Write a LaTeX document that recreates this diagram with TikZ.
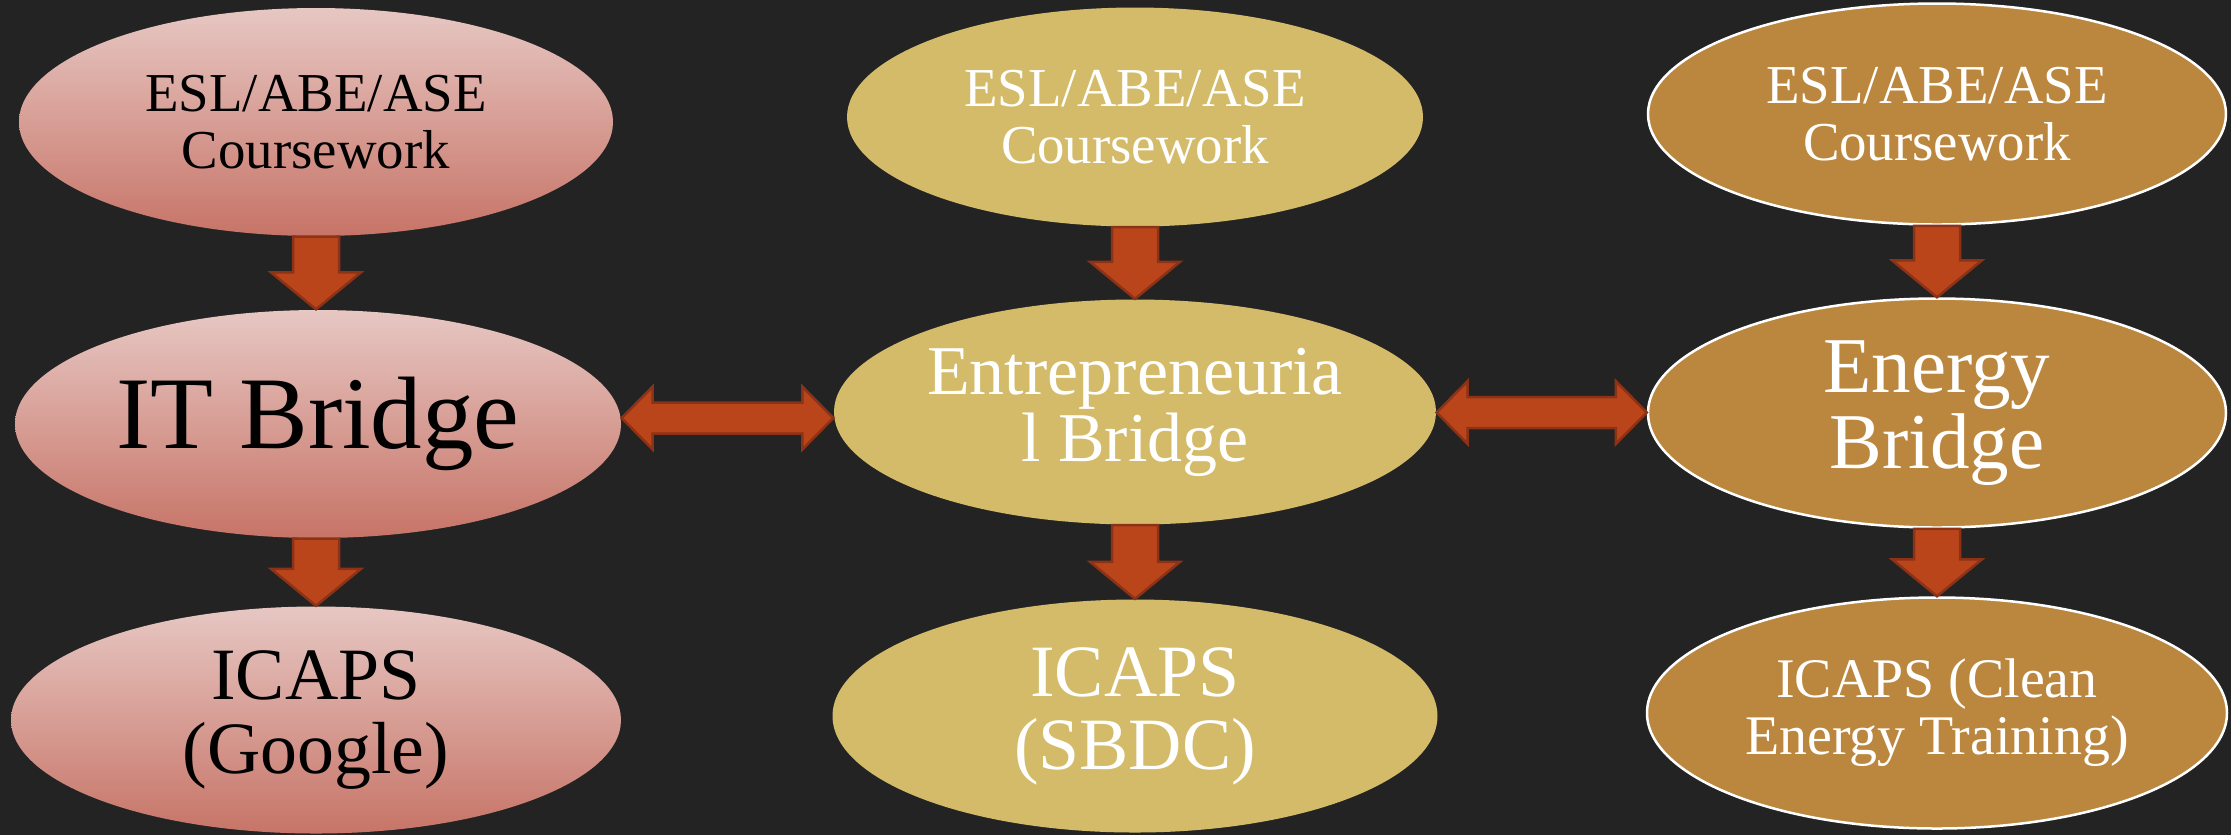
\documentclass[tikz,border=0pt]{standalone}
\usepackage{fontspec}
\setmainfont{Liberation Serif}
\usetikzlibrary{shapes.geometric,calc}

\definecolor{slate}{RGB}{35,35,35}
\definecolor{roseTop}{RGB}{231,199,195}
\definecolor{roseBot}{RGB}{199,116,103}
\definecolor{sand}{RGB}{211,187,105}
\definecolor{ochre}{RGB}{187,135,63}
\definecolor{rust}{RGB}{187,69,26}
\definecolor{rustdark}{RGB}{140,50,22}

\begin{document}
\begin{tikzpicture}[
        x=0.1mm, y=-0.1mm,
        pathway/.style={ellipse, inner sep=0pt, align=center},
        rose/.style={pathway, top color=roseTop, bottom color=roseBot, text=black},
        sandy/.style={pathway, fill=sand, text=white},
        gold/.style={pathway, fill=ochre, draw=white, line width=0.25mm, text=white},
        smalltext/.style={font=\fontsize{15.6pt}{16.2pt}\selectfont},
        bigtext/.style={font=\fontsize{29.3pt}{30pt}\selectfont},
        midtext/.style={font=\fontsize{21pt}{20.8pt}\selectfont},
        flowdown/.style={fill=rust, draw=rustdark, line width=0.25mm, line join=miter,
            to path={let \p1=(\tikztostart), \p2=(\tikztotarget) in
                (\x1-2.3mm,\y1) -- (\x1+2.3mm,\y1) -- (\x1+2.3mm,\y2+3.7mm)
                -- (\x1+4.5mm,\y2+3.7mm) -- (\x1,\y2) -- (\x1-4.5mm,\y2+3.7mm)
                -- (\x1-2.3mm,\y2+3.7mm) -- cycle}},
        twoway/.style={fill=rust, draw=rustdark, line width=0.25mm, line join=miter,
            to path={let \p1=(\tikztostart), \p2=(\tikztotarget),
                \p3=($(\tikztostart)!0.5!(\tikztotarget)$) in
                (\x1,\y3) -- (\x1+3.1mm,\y3+3.15mm) -- (\x1+3.1mm,\y3+1.55mm)
                -- (\x2-3.1mm,\y3+1.55mm) -- (\x2-3.1mm,\y3+3.15mm) -- (\x2,\y3)
                -- (\x2-3.1mm,\y3-3.15mm) -- (\x2-3.1mm,\y3-1.55mm)
                -- (\x1+3.1mm,\y3-1.55mm) -- (\x1+3.1mm,\y3-3.15mm) -- cycle}}]

    % backdrop
    \fill[slate] (0,0) rectangle (2231,835);

    % IT column
    \node[rose, smalltext, minimum width=59.4mm, minimum height=22.8mm] (itcourse) at (316,122) {ESL/ABE/ASE\\Coursework};
    \node[rose, bigtext, minimum width=60.6mm, minimum height=22.8mm] (itbridge) at (318,424) {IT Bridge};
    \node[rose, midtext, minimum width=61mm, minimum height=22.7mm] (itcaps) at (316,720) {ICAPS\\(Google)};

    % entrepreneurial column
    \node[sandy, smalltext, minimum width=57.6mm, minimum height=21.9mm] (encourse) at (1135,117) {ESL/ABE/ASE\\Coursework};
    \node[sandy, font=\fontsize{19.9pt}{17.9pt}\selectfont, minimum width=60.2mm, minimum height=22.5mm] (enbridge) at (1135,412) {Entrepreneuria\\l Bridge};
    \node[sandy, midtext, minimum width=60.5mm, minimum height=23.3mm] (encaps) at (1135,716) {ICAPS\\(SBDC)};

    % energy column
    \node[gold, smalltext, minimum width=57.8mm, minimum height=22.1mm] (ecourse) at (1937,114) {ESL/ABE/ASE\\Coursework};
    \node[gold, font=\fontsize{22.5pt}{20.2pt}\selectfont, minimum width=57.8mm, minimum height=22.9mm] (ebridge) at (1937,413) {Energy\\Bridge};
    \node[gold, font=\fontsize{15.9pt}{16.2pt}\selectfont, minimum width=58mm, minimum height=23.1mm] (ecaps) at (1937,713) {ICAPS (Clean\\Energy Training)};

    % arrows
    \draw[flowdown] (itcourse.south) to (itbridge.north);
    \draw[flowdown] (itbridge.south -| itcourse.south) to (itcaps.north);
    \draw[flowdown] (encourse.south) to (enbridge.north);
    \draw[flowdown] (enbridge.south) to (encaps.north);
    \draw[flowdown] (ecourse.south) to (ebridge.north);
    \draw[flowdown] (ebridge.south) to (ecaps.north);
    \draw[twoway] (itbridge.east) to (enbridge.west);
    \draw[twoway] (enbridge.east) to (ebridge.west);
\end{tikzpicture}
\end{document}
